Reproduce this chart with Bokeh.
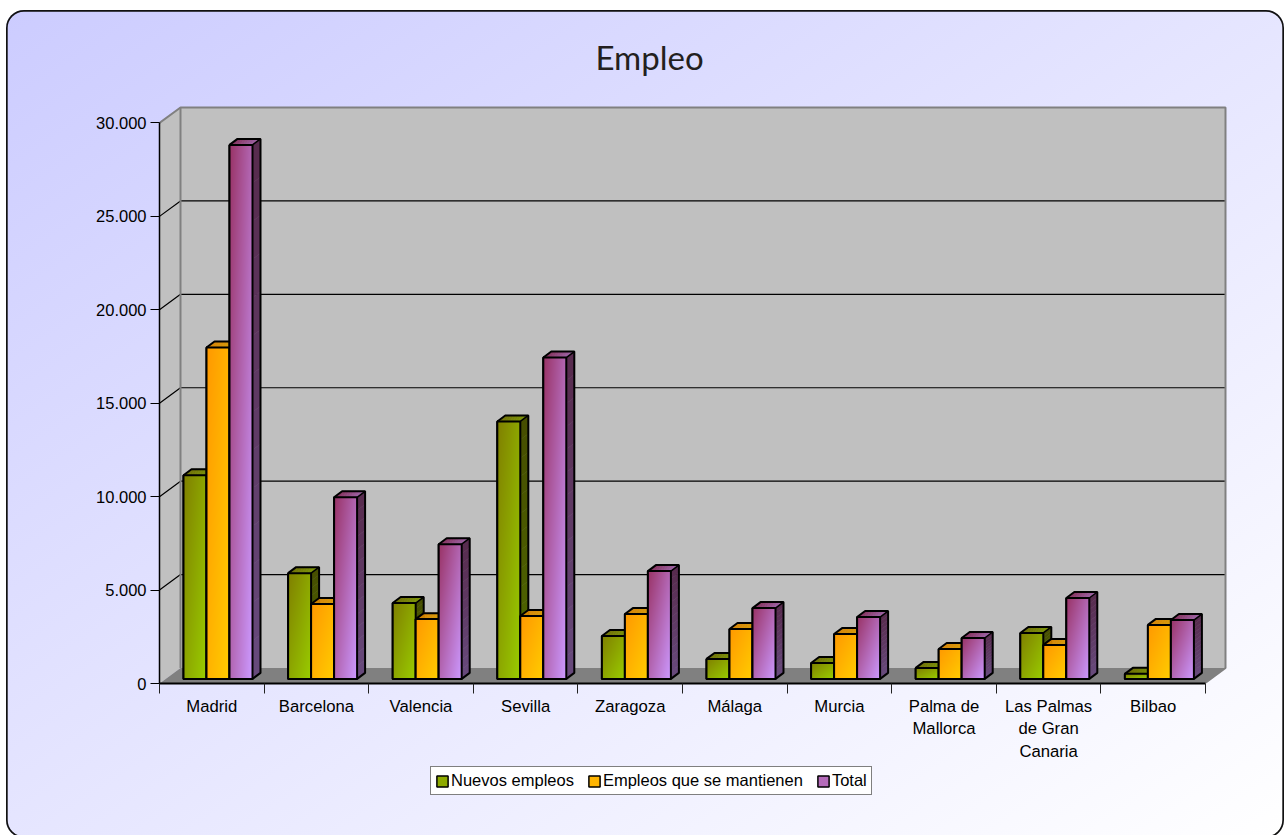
import numpy as np
from bokeh.embed import file_html
from bokeh.resources import INLINE
from bokeh.plotting import figure
from bokeh.models import (Range1d, LinearAxis, FixedTicker, Legend, LegendItem,
                          ColumnDataSource)

categories = ["Madrid", "Barcelona", "Valencia", "Sevilla", "Zaragoza", "Málaga",
              "Murcia", "Palma de\nMallorca", "Las Palmas\nde Gran\nCanaria", "Bilbao"]
nuevos = [10900, 5660, 4060, 13780, 2300, 1070, 850, 590, 2460, 270]
mantienen = [17740, 4010, 3200, 3370, 3470, 2670, 2400, 1600, 1820, 2890]
total = [28580, 9720, 7210, 17200, 5770, 3790, 3310, 2190, 4330, 3150]
y_ticks = [0, 5000, 10000, 15000, 20000, 25000, 30000]
y_labels = ["0", "5.000", "10.000", "15.000", "20.000", "25.000", "30.000"]
series_names = ["Nuevos empleos", "Empleos que se mantienen", "Total"]
series_values = [nuevos, mantienen, total]
grad_start = [(128, 128, 0), (255, 153, 0), (153, 51, 102)]
grad_end = [(153, 204, 0), (255, 204, 0), (204, 153, 255)]

# layout (page pixels)
FIG_L, FIG_T, FIG_W, FIG_H = 6, 10, 1278, 828
AX_L, AX_B = 159.0, 683.0
PX_CAT = 104.6
PX_VAL = 561.5 / 30000
FR_R, FR_T = 1228.0, 103.0
WALL_DX, WALL_DY = 21 / PX_CAT, 15.5 / PX_VAL
BAR_DX, BAR_DY = 6.2 / PX_CAT, 4.6 / PX_VAL
CAP_DX, CAP_DY = 8 / PX_CAT, 6 / PX_VAL
BAR_W = 23 / PX_CAT
GROUP_PAD = (1 - 3 * BAR_W) / 2
FONT = "Liberation Sans"
NSLICE = 14

x_end = (FR_R - AX_L) / PX_CAT
y_end = (AX_B - FR_T) / PX_VAL

p = figure(width=FIG_W, height=FIG_H, output_backend="svg", toolbar_location=None,
           x_range=Range1d(0, x_end), y_range=Range1d(0, y_end),
           x_axis_type=None, y_axis_type=None,
           min_border_left=int(AX_L - FIG_L), min_border_right=int(FIG_L + FIG_W - FR_R),
           min_border_top=int(FR_T - FIG_T), min_border_bottom=int(FIG_T + FIG_H - AX_B),
           background_fill_color=None, border_fill_color=None, outline_line_color=None,
           title="Empleo")
p.styles = {
    "position": "fixed", "left": f"{FIG_L}px", "top": f"{FIG_T}px",
    "border-radius": "18px",
    "background": "linear-gradient(to bottom right, #ccccff, #ffffff)",
    "box-shadow": "inset 0 0 0 1.7px #111111",
}
p.title.text_font = "Lato"
p.title.text_font_size = "33px"
p.title.text_font_style = "normal"
p.title.text_color = "#231f20"
p.title.align = "left"
p.title.offset = 436
p.title.vertical_align = "top"
p.title.standoff = 52

# walls and floor
wall_right = x_end - (FR_R - 1225) / PX_CAT
wall_top = 30000 + WALL_DY
p.patch([0, WALL_DX, WALL_DX, 0], [0, WALL_DY, wall_top, 30000],
        fill_color="#c0c0c0", line_color=None)
p.quad(left=[WALL_DX], right=[wall_right], bottom=[WALL_DY], top=[wall_top],
       fill_color="#c0c0c0", line_color=None)
p.patch([0, wall_right - WALL_DX, wall_right, WALL_DX], [0, 0, WALL_DY, WALL_DY],
        fill_color="#808080", line_color=None)
for v in y_ticks[1:-1]:
    p.line([0, WALL_DX, wall_right], [v, v + WALL_DY, v + WALL_DY],
           line_color="#000000", line_width=1.2)
p.line([0, WALL_DX, wall_right, wall_right, wall_right - WALL_DX],
       [30000, wall_top, wall_top, WALL_DY, 0], line_color="#808080", line_width=2)
p.line([WALL_DX, WALL_DX], [WALL_DY, wall_top], line_color="#808080", line_width=2)


def mix(a, b, t):
    return tuple(a[i] + (b[i] - a[i]) * t for i in range(3))


def hex_of(c, k=1.0):
    return "#%02x%02x%02x" % tuple(int(round(v * k)) for v in c)


for s, (name, vals) in enumerate(zip(series_names, series_values)):
    c0, c1 = grad_start[s], grad_end[s]
    lefts = [i + GROUP_PAD + BAR_DX + s * BAR_W for i in range(len(vals))]
    rights = [l + BAR_W for l in lefts]
    bottoms = [BAR_DY] * len(vals)
    tops = [BAR_DY + v for v in vals]
    src = ColumnDataSource(dict(left=lefts, right=rights, bottom=bottoms, top=tops))
    p.quad(left="left", right="right", bottom="bottom", top="top", source=src,
           fill_color=hex_of(mix(c0, c1, 0.55)), line_color="#000000", line_width=2)
    # front-face gradients
    for l, b, t in zip(lefts, bottoms, tops):
        w = 23
        h = max(2, int(round((t - b) * PX_VAL)))
        u, vv = np.meshgrid(np.linspace(0, 1, w), np.linspace(1, 0, h))
        f = (u + vv) / 2
        img = np.zeros((h, w), dtype=np.uint32)
        view = img.view(dtype=np.uint8).reshape((h, w, 4))
        for ch in range(3):
            view[:, :, ch] = np.round(c0[ch] + (c1[ch] - c0[ch]) * f)
        view[:, :, 3] = 255
        p.image_rgba(image=[img], x=[l], y=[b], dw=[BAR_W], dh=[t - b])
    # top caps and side faces, painted in strips
    for l, r, b, t in zip(lefts, rights, bottoms, tops):
        cxs, cys, ccols = [], [], []
        for k in range(NSLICE):
            a0, a1 = k / NSLICE, (k + 1) / NSLICE
            x0, x1 = l + (r - l) * a0, l + (r - l) * a1
            cxs.append([x0, x1, x1 + CAP_DX, x0 + CAP_DX])
            cys.append([t, t, t + CAP_DY, t + CAP_DY])
            ccols.append(hex_of(mix(c0, c1, (a0 + 0.5 / NSLICE) * 0.6), 0.85))
        p.patches(cxs, cys, fill_color=ccols, line_color=ccols, line_width=0.5)
        sxs, sys, scols = [], [], []
        for k in range(NSLICE):
            a0, a1 = k / NSLICE, (k + 1) / NSLICE
            y0, y1 = t + (b - t) * a0, t + (b - t) * a1
            sxs.append([r, r + CAP_DX, r + CAP_DX, r])
            sys.append([y0, y0 + CAP_DY, y1 + CAP_DY, y1])
            scols.append(hex_of(mix(c0, c1, 0.3 + 0.6 * (a0 + 0.5 / NSLICE)), 0.52))
        p.patches(sxs, sys, fill_color=scols, line_color=scols, line_width=0.5)
        # outlines
        p.line([l, l + CAP_DX, r + CAP_DX, r + CAP_DX, r],
               [t, t + CAP_DY, t + CAP_DY, b + CAP_DY, b], line_color="#000000", line_width=2)
        p.line([r, r + CAP_DX], [t, t + CAP_DY], line_color="#000000", line_width=1.5)
        p.quad(left=[l], right=[r], bottom=[b], top=[t], fill_color=None,
               line_color="#000000", line_width=2)

# axes
ya = LinearAxis(ticker=FixedTicker(ticks=y_ticks, minor_ticks=[]), bounds=(0, 30000))
ya.major_label_overrides = dict(zip(y_ticks, y_labels))
ya.major_tick_out = 9
ya.major_tick_in = 0
ya.major_tick_line_color = "#000000"
ya.axis_line_color = "#000000"
ya.axis_line_width = 1.5
ya.major_label_standoff = 4
ya.major_label_text_font = FONT
ya.major_label_text_font_size = "16.5px"
ya.major_label_text_color = "#000000"
p.add_layout(ya, "left")

mid = [i + 0.5 for i in range(len(categories))]
xa = LinearAxis(ticker=FixedTicker(ticks=mid, minor_ticks=list(range(len(categories) + 1))),
                bounds=(0, len(categories)))
xa.major_label_overrides = dict(zip(mid, categories))
xa.major_tick_out = 0
xa.major_tick_in = 0
xa.minor_tick_out = 10
xa.minor_tick_in = 0
xa.minor_tick_line_color = "#222222"
xa.axis_line_color = "#000000"
xa.axis_line_width = 2
xa.major_label_standoff = 3
xa.major_label_text_font = FONT
xa.major_label_text_font_size = "16.7px"
xa.major_label_text_color = "#000000"
xa.major_label_orientation = "horizontal"
p.add_layout(xa, "below")

# legend: its own small figure laid over the chart, because a legend below the
# axes would be clipped to the main frame
lf = figure(width=450, height=34, output_backend="svg", toolbar_location=None,
            x_range=Range1d(0, 1), y_range=Range1d(0, 1),
            x_axis_type=None, y_axis_type=None,
            min_border_left=0, min_border_right=0, min_border_top=0, min_border_bottom=0,
            background_fill_color=None, border_fill_color=None, outline_line_color=None)
lf.styles = {"position": "fixed", "left": "429px", "top": "762px"}
items = []
for s, name in enumerate(series_names):
    r = lf.quad(left=[2], right=[3], bottom=[2], top=[3],
                fill_color=hex_of(mix(grad_start[s], grad_end[s], 0.55)),
                line_color="#000000", line_width=1.5)
    items.append(LegendItem(label=name, renderers=[r]))
lg = Legend(items=items, orientation="horizontal", location=(1, 1))
lg.label_text_font = FONT
lg.label_text_font_size = "16.5px"
lg.label_text_color = "#000000"
lg.glyph_width = 14
lg.glyph_height = 14
lg.label_standoff = 2
lg.spacing = 13
lg.padding = 4
lg.margin = 0
lg.label_height = 16
lg.background_fill_color = "#ffffff"
lg.background_fill_alpha = 1
lg.border_line_color = "#000000"
lg.border_line_width = 1.4
lf.add_layout(lg, "center")

open("out.html", "w").write(file_html((p, lf), INLINE))
